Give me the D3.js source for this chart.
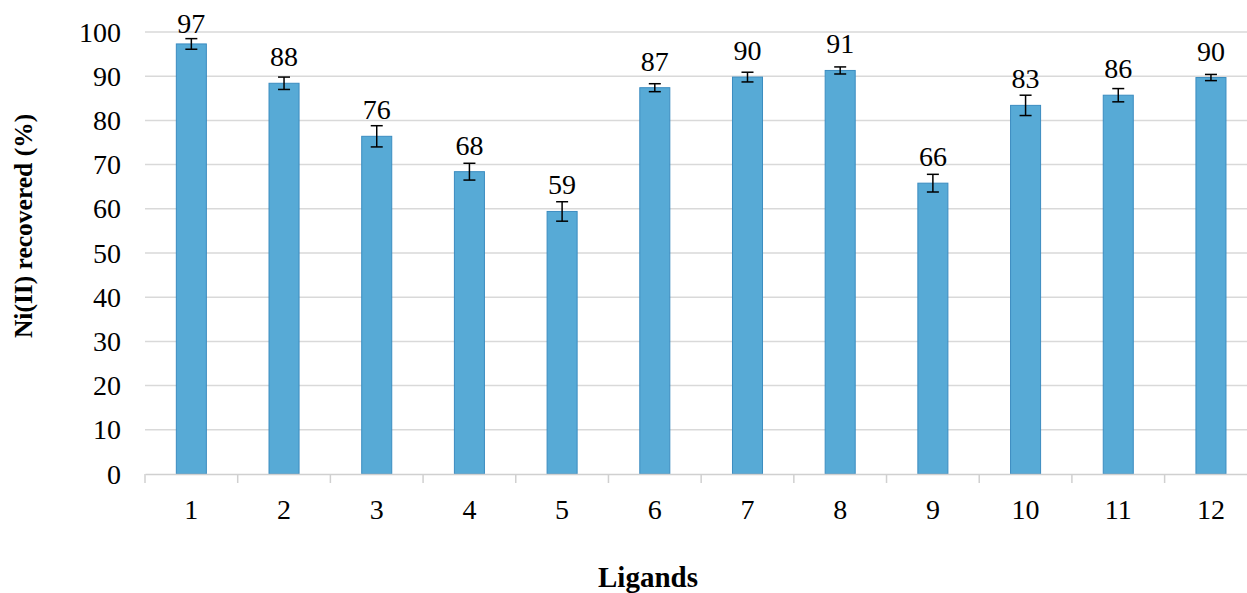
<!DOCTYPE html>
<html>
<head>
<meta charset="utf-8">
<script src="https://cdn.jsdelivr.net/npm/d3@7"></script>
<style>
  html, body { margin: 0; padding: 0; background: #fff; }
  svg { display: block; }
</style>
</head>
<body>
<svg id="chart" width="1247" height="593"></svg>
<script>
// Ni(II) recovery by ligand, mean and standard deviation
const ligands = ["1", "2", "3", "4", "5", "6", "7", "8", "9", "10", "11", "12"];
const recovery = [97.3, 88.4, 76.4, 68.4, 59.4, 87.4, 89.8, 91.3, 65.8, 83.4, 85.7, 89.7];
const errors = [1.2, 1.4, 2.4, 1.9, 2.2, 0.9, 1.1, 0.8, 2.0, 2.3, 1.5, 0.7];
const yTicks = [0, 10, 20, 30, 40, 50, 60, 70, 80, 90, 100];

const serif = "'Liberation Serif', 'Times New Roman', Times, 'DejaVu Serif', serif";
const svg = d3.select("#chart").attr("font-family", serif);
const W = 1247, H = 593;
const plotLeft = 145, plotRight = 1257.3, plotTop = 32, plotBottom = 474;

const x = d3.scaleBand().domain(ligands).range([plotLeft, plotRight]).padding(0);
const y = d3.scaleLinear().domain([0, 100]).range([plotBottom, plotTop]);
const barW = x.step() * 0.324;

// horizontal gridlines
svg.append("g")
  .selectAll("line")
  .data(yTicks.filter(d => d > 0))
  .join("line")
  .attr("x1", plotLeft).attr("x2", W)
  .attr("y1", d => y(d)).attr("y2", d => y(d))
  .attr("stroke", "#d9d9d9").attr("stroke-width", 1.5);

// y tick labels
svg.append("g")
  .selectAll("text")
  .data(yTicks)
  .join("text")
  .attr("font-family", serif)
  .attr("x", 121)
  .attr("y", d => y(d))
  .attr("dy", "0.34em")
  .attr("text-anchor", "end")
  .attr("font-size", 28)
  .text(d => d);

// bars
svg.append("g")
  .selectAll("rect")
  .data(ligands)
  .join("rect")
  .attr("x", (d, i) => x(d) + x.bandwidth() / 2 - barW / 2)
  .attr("y", (d, i) => y(recovery[i]))
  .attr("width", barW)
  .attr("height", (d, i) => y(0) - y(recovery[i]))
  .attr("fill", "#57aad6")
  .attr("stroke", "#3b8cc0")
  .attr("stroke-width", 1);

// x axis baseline and category ticks
const xAxis = svg.append("g").attr("transform", `translate(0,${plotBottom})`)
  .call(d3.axisBottom(x).tickSize(0).tickFormat(""));
xAxis.select(".domain").attr("stroke", "#d0d0d0").attr("stroke-width", 1.5);
const bounds = d3.range(ligands.length + 1).map(i => plotLeft + i * x.step());
svg.append("g")
  .selectAll("line")
  .data(bounds)
  .join("line")
  .attr("x1", d => d).attr("x2", d => d)
  .attr("y1", plotBottom).attr("y2", plotBottom + 9)
  .attr("stroke", "#d0d0d0").attr("stroke-width", 1.5);

// x tick labels
svg.append("g")
  .selectAll("text")
  .data(ligands)
  .join("text")
  .attr("font-family", serif)
  .attr("x", d => x(d) + x.bandwidth() / 2)
  .attr("y", 519)
  .attr("text-anchor", "middle")
  .attr("font-size", 28)
  .text(d => d);

// error bars
const eb = svg.append("g").attr("stroke", "#000").attr("stroke-width", 1.5);
ligands.forEach((d, i) => {
  const cx = x(d) + x.bandwidth() / 2;
  const hi = y(recovery[i] + errors[i]), lo = y(recovery[i] - errors[i]);
  eb.append("line").attr("x1", cx).attr("x2", cx).attr("y1", hi).attr("y2", lo);
  eb.append("line").attr("x1", cx - 6).attr("x2", cx + 6).attr("y1", hi).attr("y2", hi);
  eb.append("line").attr("x1", cx - 6).attr("x2", cx + 6).attr("y1", lo).attr("y2", lo);
});

// value labels above bars
svg.append("g")
  .selectAll("text")
  .data(ligands)
  .join("text")
  .attr("font-family", serif)
  .attr("x", d => x(d) + x.bandwidth() / 2)
  .attr("y", (d, i) => Math.max(y(recovery[i]) - 17, 33))
  .attr("text-anchor", "middle")
  .attr("font-size", 28)
  .text((d, i) => Math.round(recovery[i]));

// axis titles
svg.append("text")
  .attr("font-family", serif)
  .attr("transform", "translate(32,226) rotate(-90)")
  .attr("text-anchor", "middle")
  .attr("font-size", 25.5)
  .attr("font-weight", "bold")
  .text("Ni(II) recovered (%)");

svg.append("text")
  .attr("font-family", serif)
  .attr("x", 648)
  .attr("y", 587)
  .attr("text-anchor", "middle")
  .attr("font-size", 29)
  .attr("font-weight", "bold")
  .text("Ligands");
</script>
</body>
</html>
